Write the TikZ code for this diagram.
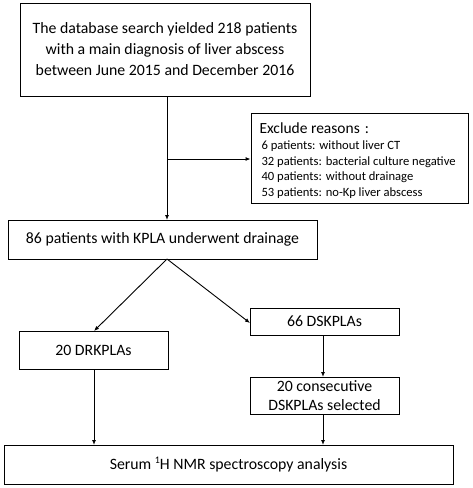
\documentclass[tikz,border=0pt]{standalone}
\usepackage{fontspec}
\setmainfont{Carlito}
\usetikzlibrary{arrows.meta}
\tikzset{
  box/.style={draw, line width=0.9pt, inner sep=0pt, align=center},
  arr/.style={line width=0.9pt, -{Latex[length=5pt,width=4pt]}},
  ln/.style={line width=0.9pt},
  maintext/.style={font=\fontsize{15.8}{21}\selectfont},
}
\begin{document}
\begin{tikzpicture}[x=1pt,y=-1pt]
\useasboundingbox (0,0) rectangle (473,488);
% top box
\node[box, maintext, minimum width=290pt, minimum height=93pt] (top) at (165,49.5)
  {The database search yielded 218 patients\\with a main diagnosis of liver abscess\\between June 2015 and December 2016};
% exclude box
\node[box, minimum width=217pt, minimum height=90pt] (excl) at (359.5,158) {};
\node[anchor=west, font=\fontsize{15.5}{17}\selectfont] (exh) at (256,128) {Exclude reasons\hspace{5pt}:};
\node[anchor=north west, align=left, font=\fontsize{12.6}{15.5}\selectfont] (exl) at (258,137.5)
  {6 patients: without liver CT\\32 patients: bacterial culture negative\\40 patients: without drainage\\53 patients: no-Kp liver abscess};
% 86 box
\node[box, maintext, minimum width=309pt, minimum height=39pt] (p86) at (162.5,239.5)
  {86 patients with KPLA underwent drainage};
% DRKPLA
\node[box, maintext, minimum width=149pt, minimum height=38pt] (dr) at (93.5,350) {20 DRKPLAs};
% 66 DSKPLA
\node[box, maintext, minimum width=149pt, minimum height=27pt] (ds) at (324.5,321.5) {66 DSKPLAs};
% 20 consecutive
\node[box, maintext, minimum width=149pt, minimum height=37pt] (cons) at (324.5,395.5)
  {20 consecutive\\[-2pt]DSKPLAs selected};
% final
\node[box, maintext, minimum width=449pt, minimum height=39pt] (fin) at (228.5,464.5)
  {Serum {\fontsize{10}{10}\selectfont\raisebox{6pt}{1}}H NMR spectroscopy analysis};
% connectors
\coordinate (j) at (167,159);
\draw[ln] (167,96) coordinate (topb) -- (j);
\draw[arr] (j) -- (excl.west |- j);
\draw[arr] (j) -- (167,220);
\coordinate (apex) at (167,259);
\draw[arr] (apex) -- (94,331);
\draw[arr] (apex) -- (250,323);
\draw[arr] (323,335) -- (323,377);
\draw[arr] (94,369) -- (94,445);
\draw[arr] (323,414) -- (323,445);
\end{tikzpicture}
\end{document}
